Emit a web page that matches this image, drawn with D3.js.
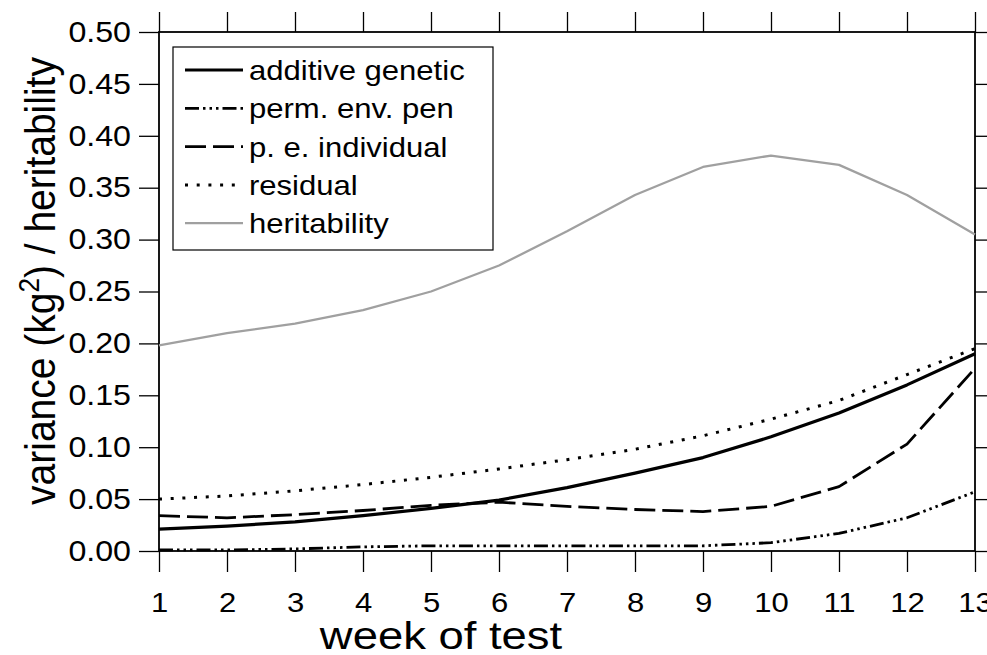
<!DOCTYPE html>
<html>
<head>
<meta charset="utf-8">
<script src="https://cdn.jsdelivr.net/npm/d3@7"></script>
<style>
  html, body { margin: 0; padding: 0; background: #fff; }
  svg { display: block; }
  text { font-family: "Liberation Sans", Arial, Helvetica, sans-serif; fill: #000; }
</style>
</head>
<body>
<svg id="chart" width="987" height="655"></svg>
<script>
// ---- data ----
const weeks = [1, 2, 3, 4, 5, 6, 7, 8, 9, 10, 11, 12, 13];
const additiveGenetic = [0.021, 0.024, 0.028, 0.034, 0.041, 0.049, 0.061, 0.075, 0.090, 0.110, 0.133, 0.160, 0.190];
const permEnvPen      = [0.001, 0.001, 0.002, 0.004, 0.005, 0.005, 0.005, 0.005, 0.005, 0.008, 0.017, 0.032, 0.057];
const peIndividual    = [0.034, 0.032, 0.035, 0.039, 0.044, 0.047, 0.043, 0.040, 0.038, 0.043, 0.062, 0.103, 0.176];
const residual        = [0.050, 0.053, 0.058, 0.064, 0.071, 0.079, 0.088, 0.098, 0.111, 0.127, 0.145, 0.170, 0.195];
const heritability    = [0.198, 0.210, 0.219, 0.232, 0.250, 0.275, 0.308, 0.343, 0.370, 0.381, 0.372, 0.343, 0.305];
const seriesNames = ["additive genetic", "perm. env. pen", "p. e. individual", "residual", "heritability"];
const yTicks = [0.00, 0.05, 0.10, 0.15, 0.20, 0.25, 0.30, 0.35, 0.40, 0.45, 0.50];
const xLabel = "week of test";

// ---- styles ----
const styles = [
  { stroke: "#000", width: 3.2, dash: null },
  { stroke: "#000", width: 2.8, dash: "14,4,2.5,4,2.5,4,2.5,4" },
  { stroke: "#000", width: 2.8, dash: "21,7" },
  { stroke: "#000", width: 3, dash: "3,8.7" },
  { stroke: "#a0a0a0", width: 2.3, dash: null }
];
const seriesValues = [additiveGenetic, permEnvPen, peIndividual, residual, heritability];
const SX = 1.15;  // horizontal stretch of the lettering
const SXY = 1.11; // stretch for y tick labels

const svg = d3.select("#chart");
const L = 159, R = 975, T = 32, B = 551;

const x = d3.scaleLinear().domain([1, 13]).range([L, R]);
const y = d3.scaleLinear().domain([0, 0.5]).range([B, T]);

// axes
const fmt = d3.format(".2f");
const gx = svg.append("g").attr("transform", `translate(0,${B})`)
  .call(d3.axisBottom(x).tickValues(weeks).tickFormat(d3.format("d")).tickSize(21).tickPadding(21));
const gxt = svg.append("g").attr("transform", `translate(0,${T})`)
  .call(d3.axisTop(x).tickValues(weeks).tickFormat("").tickSize(20));
const gy = svg.append("g").attr("transform", `translate(${L},0)`)
  .call(d3.axisLeft(y).tickValues(yTicks).tickFormat(fmt).tickSize(20).tickPadding(8));
const gyr = svg.append("g").attr("transform", `translate(${R},0)`)
  .call(d3.axisRight(y).tickValues(yTicks).tickFormat("").tickSize(20));

[gx, gxt, gy, gyr].forEach(g => {
  g.select(".domain").remove();
  g.selectAll(".tick line").attr("stroke", "#000").attr("stroke-width", 1.3);
});
gx.selectAll(".tick text").attr("font-size", 27).attr("fill", "#000")
  .attr("font-family", "Liberation Sans, Arial, sans-serif")
  .attr("transform", `scale(${SX},1)`);
gy.selectAll(".tick text").attr("font-size", 29).attr("fill", "#000")
  .attr("font-family", "Liberation Sans, Arial, sans-serif")
  .attr("x", -28 / SXY)
  .attr("transform", `scale(${SXY},1)`);

// frame
svg.append("rect").attr("x", L).attr("y", T).attr("width", R - L).attr("height", B - T)
  .attr("fill", "none").attr("stroke", "#000").attr("stroke-width", 1.8);

// lines
const line = d3.line().x((d, i) => x(weeks[i])).y(d => y(d));
const order = [4, 3, 2, 1, 0];
order.forEach(k => {
  const s = styles[k];
  svg.append("path").datum(seriesValues[k])
    .attr("d", line)
    .attr("fill", "none")
    .attr("stroke", s.stroke)
    .attr("stroke-width", s.width)
    .attr("stroke-dasharray", s.dash)
    .attr("stroke-linejoin", "round");
});

// legend
const lg = svg.append("g");
lg.append("rect").attr("x", 173).attr("y", 47).attr("width", 320).attr("height", 203)
  .attr("fill", "#fff").attr("stroke", "#000").attr("stroke-width", 1.2);
seriesNames.forEach((name, i) => {
  const cy = 70 + i * 38.3;
  const s = styles[i];
  lg.append("line").attr("x1", 185).attr("x2", 243).attr("y1", cy).attr("y2", cy)
    .attr("stroke", s.stroke).attr("stroke-width", s.width)
    .attr("stroke-dasharray", s.dash);
  lg.append("text").attr("transform", `translate(249,${cy + 10}) scale(${SX},1)`)
    .attr("font-size", 27).text(name);
});

// axis titles
svg.append("text").attr("transform", `translate(441,649) scale(${SX},1)`)
  .attr("text-anchor", "middle").attr("font-size", 39.5).text(xLabel);
const yt = svg.append("text").attr("transform", `translate(55,281) scale(1.1,1) rotate(-90)`)
  .attr("text-anchor", "middle").attr("font-size", 39);
yt.append("tspan").text("variance (kg");
yt.append("tspan").attr("font-size", 26).attr("dy", -15).text("2");
yt.append("tspan").attr("dy", 15).text(") / heritability");
</script>
</body>
</html>
